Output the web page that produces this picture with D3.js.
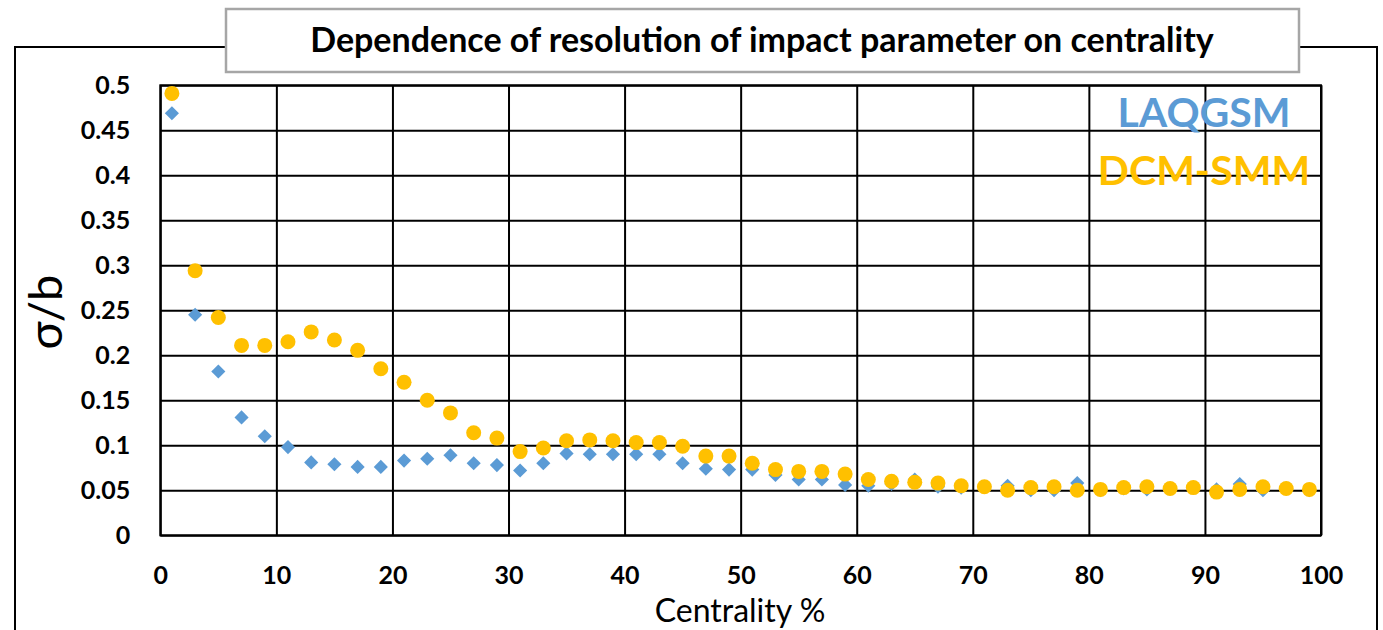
<!DOCTYPE html>
<html>
<head>
<meta charset="utf-8">
<script src="https://cdn.jsdelivr.net/npm/d3@7"></script>
<style>
  html, body { margin: 0; padding: 0; background: #ffffff; }
  svg { display: block; font-family: Lato, "Open Sans", "DejaVu Sans", sans-serif; }
</style>
</head>
<body>
<svg id="chart" width="1383" height="630"></svg>
<script>
// Centrality bins (%), one point per bin centre
const centrality = [1, 3, 5, 7, 9, 11, 13, 15, 17, 19, 21, 23, 25, 27, 29, 31, 33, 35, 37, 39,
                    41, 43, 45, 47, 49, 51, 53, 55, 57, 59, 61, 63, 65, 67, 69, 71, 73, 75, 77, 79,
                    81, 83, 85, 87, 89, 91, 93, 95, 97, 99];

// Relative resolution of the impact parameter, sigma/b
const laqgsm = [0.469, 0.245, 0.182, 0.131, 0.110, 0.098, 0.081, 0.079, 0.076, 0.076,
                0.083, 0.085, 0.089, 0.080, 0.078, 0.072, 0.080, 0.091, 0.090, 0.090,
                0.090, 0.090, 0.080, 0.074, 0.073, 0.073, 0.067, 0.062, 0.062, 0.056,
                0.055, 0.057, 0.062, 0.054, 0.053, 0.054, 0.055, 0.050, 0.050, 0.058,
                0.050, 0.052, 0.051, 0.052, 0.053, 0.051, 0.057, 0.050, 0.052, 0.050];

const dcmSmm = [0.491, 0.294, 0.242, 0.211, 0.211, 0.215, 0.226, 0.217, 0.2055, 0.185,
                0.170, 0.150, 0.136, 0.114, 0.108, 0.093, 0.097, 0.105, 0.106, 0.105,
                0.103, 0.103, 0.099, 0.088, 0.088, 0.080, 0.073, 0.071, 0.071, 0.068,
                0.062, 0.060, 0.059, 0.058, 0.055, 0.054, 0.050, 0.053, 0.054, 0.050,
                0.051, 0.053, 0.054, 0.052, 0.053, 0.048, 0.051, 0.054, 0.052, 0.051];

const xTicks = [0, 10, 20, 30, 40, 50, 60, 70, 80, 90, 100];
const yTicks = [0, 0.05, 0.1, 0.15, 0.2, 0.25, 0.3, 0.35, 0.4, 0.45, 0.5];
const yTickLabels = ["0", "0.05", "0.1", "0.15", "0.2", "0.25", "0.3", "0.35", "0.4", "0.45", "0.5"];

const seriesNames = ["LAQGSM", "DCM-SMM"];
const seriesColors = ["#5B9BD5", "#FFC000"];

const svg = d3.select("#chart");

// Plot area
const plot = { left: 160.3, right: 1321, top: 85.3, bottom: 535.3 };

const x = d3.scaleLinear().domain([0, 100]).range([plot.left, plot.right]);
const y = d3.scaleLinear().domain([0, 0.5]).range([plot.bottom, plot.top]);

// Outer chart frame (interrupted by the title box)
const frame = svg.append("g").attr("stroke", "#000").attr("stroke-width", 2).attr("fill", "none");
frame.append("path").attr("d", "M15,640 L15,47 L226,47");
frame.append("path").attr("d", "M1299,47 L1377,47 L1377,640");

// Title box
svg.append("rect")
  .attr("x", 226).attr("y", 9).attr("width", 1073).attr("height", 63)
  .attr("fill", "#fff").attr("stroke", "#A6A6A6").attr("stroke-width", 2.5);

svg.append("text")
  .attr("x", 762).attr("y", 52)
  .attr("text-anchor", "middle")
  .attr("font-size", 34).attr("font-weight", 700).attr("fill", "#000")
  .text("Dependence of resolution of impact parameter on centrality");

// Grid + axes
const yAxis = d3.axisLeft(y)
  .tickValues(yTicks)
  .tickFormat((d, i) => yTickLabels[i])
  .tickSize(-(plot.right - plot.left))
  .tickPadding(30);

const xAxis = d3.axisBottom(x)
  .tickValues(xTicks)
  .tickSize(-(plot.bottom - plot.top))
  .tickPadding(31);

const gy = svg.append("g").attr("transform", `translate(${plot.left},0)`).call(yAxis);
const gx = svg.append("g").attr("transform", `translate(0,${plot.bottom})`).call(xAxis);

[gx, gy].forEach(g => {
  g.select(".domain").remove();
  g.selectAll(".tick line").attr("stroke", "#000").attr("stroke-width", 2);
  g.selectAll(".tick text")
    .attr("fill", "#000")
    .attr("font-size", 25)
    .attr("font-weight", 700)
    .style("font-family", "Lato, 'Open Sans', sans-serif");
});

// Plot-area border
svg.append("rect")
  .attr("x", plot.left).attr("y", plot.top)
  .attr("width", plot.right - plot.left).attr("height", plot.bottom - plot.top)
  .attr("fill", "none").attr("stroke", "#000").attr("stroke-width", 2);

// Axis titles
svg.append("text")
  .attr("transform", "translate(62,312) rotate(-90)")
  .attr("text-anchor", "middle")
  .attr("font-size", 47).attr("fill", "#000")
  .text("σ/b");

svg.append("text")
  .attr("x", 740).attr("y", 622)
  .attr("text-anchor", "middle")
  .attr("font-size", 32).attr("fill", "#000")
  .text("Centrality %");

// LAQGSM: diamonds
const diamond = d3.symbol().type(d3.symbolSquare).size(100);
svg.append("g").selectAll("path")
  .data(centrality.map((c, i) => [c, laqgsm[i]]))
  .join("path")
  .attr("d", diamond)
  .attr("transform", d => `translate(${x(d[0])},${y(d[1])}) rotate(45)`)
  .attr("fill", seriesColors[0]);

// DCM-SMM: circles
svg.append("g").selectAll("circle")
  .data(centrality.map((c, i) => [c, dcmSmm[i]]))
  .join("circle")
  .attr("cx", d => x(d[0]))
  .attr("cy", d => y(d[1]))
  .attr("r", 7.5)
  .attr("fill", seriesColors[1]);

// Series labels
const legendY = [127, 185];
svg.append("g").selectAll("text")
  .data(seriesNames)
  .join("text")
  .attr("x", 1204)
  .attr("y", (d, i) => legendY[i])
  .attr("text-anchor", "middle")
  .attr("font-size", 41).attr("font-weight", 700)
  .attr("fill", (d, i) => seriesColors[i])
  .text(d => d);
</script>
</body>
</html>
